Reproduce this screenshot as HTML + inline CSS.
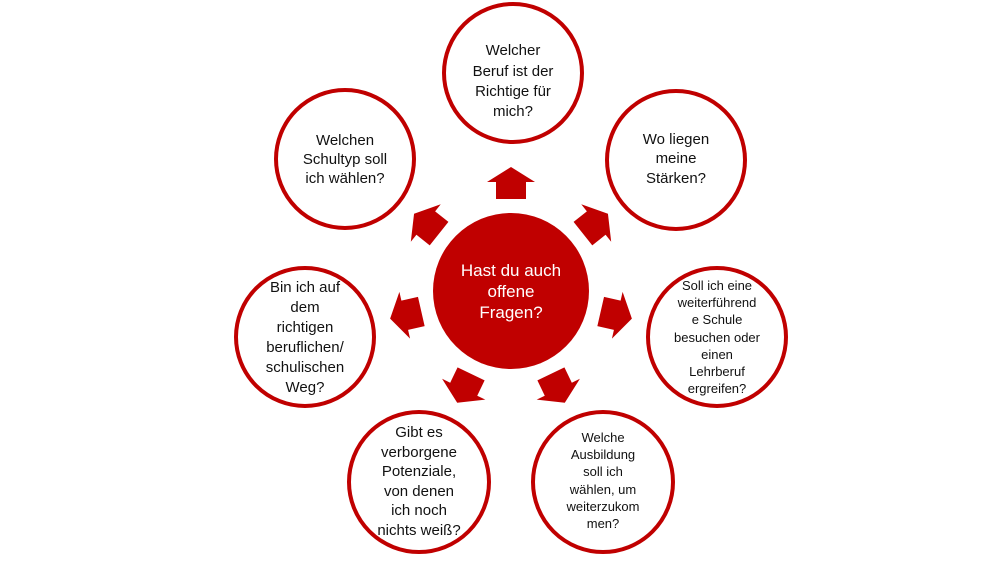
<!DOCTYPE html>
<html><head><meta charset="utf-8"><style>
html,body{margin:0;padding:0;background:#fff;}
svg{display:block;}
text{font-family:"Liberation Sans",sans-serif;text-anchor:middle;fill:#111;}
text.w{fill:#fff;}
</style></head><body>
<svg width="1006" height="566" viewBox="0 0 1006 566">
<g fill="#c00000">
<circle cx="511" cy="291" r="78"/>
<path d="M-15,-92 L15,-92 L15,-109 L24,-109 L0,-124 L-24,-109 L-15,-109 Z" transform="translate(511,291)"/>
<path d="M-15,-92 L15,-92 L15,-109 L24,-109 L0,-124 L-24,-109 L-15,-109 Z" transform="translate(511,291) rotate(51.43)"/>
<path d="M-15,-92 L15,-92 L15,-109 L24,-109 L0,-124 L-24,-109 L-15,-109 Z" transform="translate(511,291) rotate(102.86)"/>
<path d="M-15,-92 L15,-92 L15,-109 L24,-109 L0,-124 L-24,-109 L-15,-109 Z" transform="translate(511,291) rotate(154.29)"/>
<path d="M-15,-92 L15,-92 L15,-109 L24,-109 L0,-124 L-24,-109 L-15,-109 Z" transform="translate(511,291) rotate(205.71)"/>
<path d="M-15,-92 L15,-92 L15,-109 L24,-109 L0,-124 L-24,-109 L-15,-109 Z" transform="translate(511,291) rotate(257.14)"/>
<path d="M-15,-92 L15,-92 L15,-109 L24,-109 L0,-124 L-24,-109 L-15,-109 Z" transform="translate(511,291) rotate(308.57)"/>
</g>
<g fill="#fff" stroke="#c00000" stroke-width="4">
<circle cx="513" cy="73" r="69"/>
<circle cx="345" cy="159" r="69"/>
<circle cx="676" cy="160" r="69"/>
<circle cx="717" cy="337" r="69"/>
<circle cx="305" cy="337" r="69"/>
<circle cx="419" cy="482" r="70"/>
<circle cx="603" cy="482" r="70"/>
</g>
<g font-size="17">
<text class="w" x="511" y="276">Hast du auch</text>
<text class="w" x="511" y="297">offene</text>
<text class="w" x="511" y="318">Fragen?</text>
</g>
<g font-size="15">
<text x="513" y="55">Welcher</text>
<text x="513" y="76">Beruf ist der</text>
<text x="513" y="96">Richtige für</text>
<text x="513" y="116">mich?</text>
<text x="345" y="145">Welchen</text>
<text x="345" y="164">Schultyp soll</text>
<text x="345" y="183">ich wählen?</text>
<text x="676" y="144">Wo liegen</text>
<text x="676" y="163">meine</text>
<text x="676" y="183">Stärken?</text>
<text x="305" y="292">Bin ich auf</text>
<text x="305" y="312">dem</text>
<text x="305" y="332">richtigen</text>
<text x="305" y="352">beruflichen/</text>
<text x="305" y="372">schulischen</text>
<text x="305" y="392">Weg?</text>
<text x="419" y="437">Gibt es</text>
<text x="419" y="457">verborgene</text>
<text x="419" y="476">Potenziale,</text>
<text x="419" y="496">von denen</text>
<text x="419" y="515">ich noch</text>
<text x="419" y="535">nichts weiß?</text>
</g>
<g font-size="13">
<text x="717" y="290">Soll ich eine</text>
<text x="717" y="307">weiterführend</text>
<text x="717" y="324">e Schule</text>
<text x="717" y="342">besuchen oder</text>
<text x="717" y="359">einen</text>
<text x="717" y="376">Lehrberuf</text>
<text x="717" y="393">ergreifen?</text>
<text x="603" y="442">Welche</text>
<text x="603" y="459">Ausbildung</text>
<text x="603" y="476">soll ich</text>
<text x="603" y="494">wählen, um</text>
<text x="603" y="511">weiterzukom</text>
<text x="603" y="528">men?</text>
</g>
</svg>
</body></html>
